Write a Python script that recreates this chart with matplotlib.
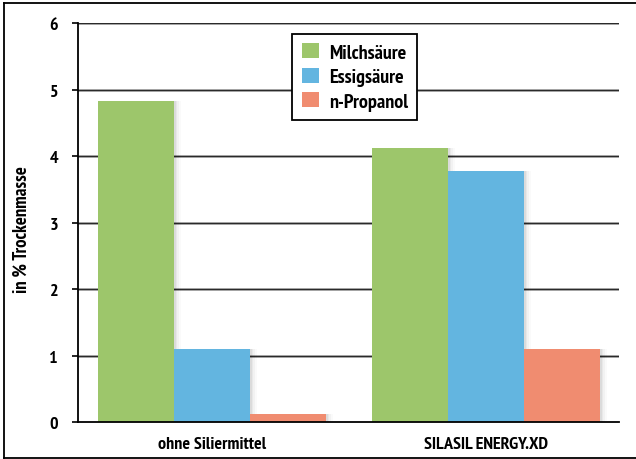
import matplotlib
matplotlib.use("Agg")
import matplotlib.pyplot as plt
from matplotlib.patches import Patch
from matplotlib.lines import Line2D
import numpy as np

plt.rcParams['font.family'] = ['PT Sans Narrow', 'Roboto Condensed', 'DejaVu Sans']

categories = ["ohne Siliermittel", "SILASIL ENERGY.XD"]
series = ["Milchsäure", "Essigsäure", "n-Propanol"]
milch = [4.83, 4.12]
essig = [1.10, 3.78]
propanol = [0.12, 1.10]
values = [milch, essig, propanol]
colors = ["#9dc66b", "#63b5e0", "#f08c70"]
yticks = [0, 1, 2, 3, 4, 5, 6]

W, H = 636, 460
fig = plt.figure(figsize=(W / 100, H / 100), dpi=100)
ax = fig.add_axes([77.5 / W, 1 - 423 / H, 541.5 / W, 398.8 / H])

# outer frame
lk = dict(transform=fig.transFigure, color="black", lw=1.3)
fig.add_artist(Line2D([4 / W, 4 / W], [1 - 459 / H, 1 - 4 / H], **lk))
fig.add_artist(Line2D([4 / W, 1], [1 - 4 / H, 1 - 4 / H], **lk))
fig.add_artist(Line2D([4 / W, 1], [1 - 459 / H, 1 - 459 / H], **lk))

x = np.arange(len(categories))
w = 0.2774
for i, (vals, c) in enumerate(zip(values, colors)):
    pos = x + (i - 1) * w
    # soft drop shadow
    for k, a in enumerate([0.05, 0.04, 0.03, 0.02]):
        off = 0.006 * (k + 1)
        ax.bar(pos + off, vals, w, color="black", alpha=a, zorder=2, linewidth=0)
    ax.bar(pos, vals, w, color=c, label=series[i], zorder=3, linewidth=0)

ax.set_ylim(0, 6)
ax.set_xlim(-0.491, 1.4854)
ax.set_yticks(yticks)
ax.set_yticklabels([str(t) for t in yticks], fontsize=13, fontweight="bold")
ax.set_xticks(x)
ax.set_xticklabels(categories, fontsize=13, fontweight="bold")
ax.tick_params(axis="x", length=0, pad=10)
ax.tick_params(axis="y", length=4, width=1.2, direction="out", pad=10)
for t in yticks[1:]:
    ax.axhline(t, color="#bbbbbb", lw=2.0, zorder=1)
    ax.axhline(t, color="#2a2a2a", lw=1.0, zorder=1)
ax.spines["top"].set_visible(False)
ax.spines["right"].set_visible(False)
ax.spines["left"].set_linewidth(1.3)
ax.spines["bottom"].set_linewidth(1.3)
ax.spines["bottom"].set_zorder(4)
ax.set_ylabel("in % Trockenmasse", fontsize=13.5, fontweight="bold")
ax.yaxis.set_label_coords(-0.086, 0.485)

handles = [Patch(facecolor=c, edgecolor="none") for c in colors]
leg = ax.legend(handles, series, loc="upper left", bbox_to_anchor=(0.397, 0.972),
                borderaxespad=0,
                prop={"size": 14.5, "weight": "bold"}, frameon=True, fancybox=False,
                edgecolor="black", framealpha=1, handlelength=0.85, handleheight=0.75,
                handletextpad=0.5, labelspacing=0.3, borderpad=0.45)
leg.get_frame().set_linewidth(1.3)
leg.set_zorder(5)

fig.savefig("out.png", dpi=100)
